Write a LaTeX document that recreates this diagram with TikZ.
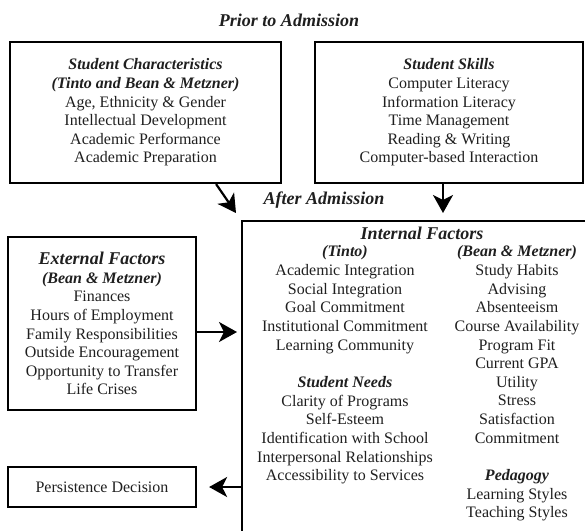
\documentclass[tikz,border=0pt]{standalone}
\usepackage{fontspec}
\setmainfont{Liberation Serif}
\usetikzlibrary{arrows.meta,calc}
\tikzset{
  body/.style={font=\fontsize{16}{18.65}\selectfont, align=center, inner sep=0pt, text=black!88},
  box/.style={draw=black, line width=2.2pt, body},
  arr/.style={line width=2.2pt, -{Stealth[length=18pt,width=20pt,inset=5pt]}},
}
\newcommand{\hd}[1]{\textbf{\textit{#1}}}
\newcommand{\bighd}[1]{{\fontsize{18}{20}\selectfont\textbf{\textit{#1}}}}
\begin{document}
\begin{tikzpicture}[x=1pt,y=-1pt]
\useasboundingbox (0,0) rectangle (585,531);

\node[body] (prior) at (289,20) {\bighd{Prior to Admission}};
\node[body] (after) at (324,200) {\bighd{After Admission}};

\node[box, minimum width=271pt, minimum height=141pt] (sc) at (145.5,112.5)
  {\hd{Student Characteristics}\\ \hd{(Tinto and Bean \& Metzner)}\\ Age, Ethnicity \& Gender\\ Intellectual Development\\ Academic Performance\\ Academic Preparation};

\node[box, minimum width=268pt, minimum height=141pt] (sk) at (449,112.5)
  {\hd{Student Skills}\\ Computer Literacy\\ Information Literacy\\ Time Management\\ Reading \& Writing\\ Computer-based Interaction};

\node[box, minimum width=188pt, minimum height=173pt] (ext) at (102,323.5)
  {\bighd{External Factors}\\ \hd{(Bean \& Metzner)}\\ Finances\\ Hours of Employment\\ Family Responsibilities\\ Outside Encouragement\\ Opportunity to Transfer\\ Life Crises};

\node[box, minimum width=188pt, minimum height=40pt] (pd) at (102,487) {Persistence Decision};

% internal factors box (runs past the right and bottom edges)
\coordinate (itl) at (242,221);
\coordinate (itr) at (585,221);
\coordinate (ibl) at (242,531);
\draw[line width=2.2pt] (itr) -- (itl) -- (ibl);

\node[body] (inth) at (422,233) {\bighd{Internal Factors}};
\node[body] (tinto) at (345,365)
  {\hd{(Tinto)}\\ Academic Integration\\ Social Integration\\ Goal Commitment\\ Institutional Commitment\\ Learning Community\\[18.65pt] \hd{Student Needs}\\ Clarity of Programs\\ Self-Esteem\\ Identification with School\\ Interpersonal Relationships\\ Accessibility to Services};
\node[body] (bean) at (517,383.5)
  {\hd{(Bean \& Metzner)}\\ Study Habits\\ Advising\\ Absenteeism\\ Course Availability\\ Program Fit\\ Current GPA\\ Utility\\ Stress\\ Satisfaction\\ Commitment\\[18.65pt] \hd{Pedagogy}\\ Learning Styles\\ Teaching Styles};

% connectors
\coordinate (a1e) at (236,213);
\draw[arr] ($(sc.south east)+(-66,0)$) -- (a1e);
\draw[arr, shorten >=8pt] ($(sk.south)+(-6,0)$) coordinate (s2) -- (s2 |- itl);
\draw[arr, shorten >=5pt] ($(ext.east)+(0,8.5)$) coordinate (e2) -- (e2 -| itl);
\draw[arr, shorten >=12pt] (pd.east -| itl) -- (pd.east);
\end{tikzpicture}
\end{document}
